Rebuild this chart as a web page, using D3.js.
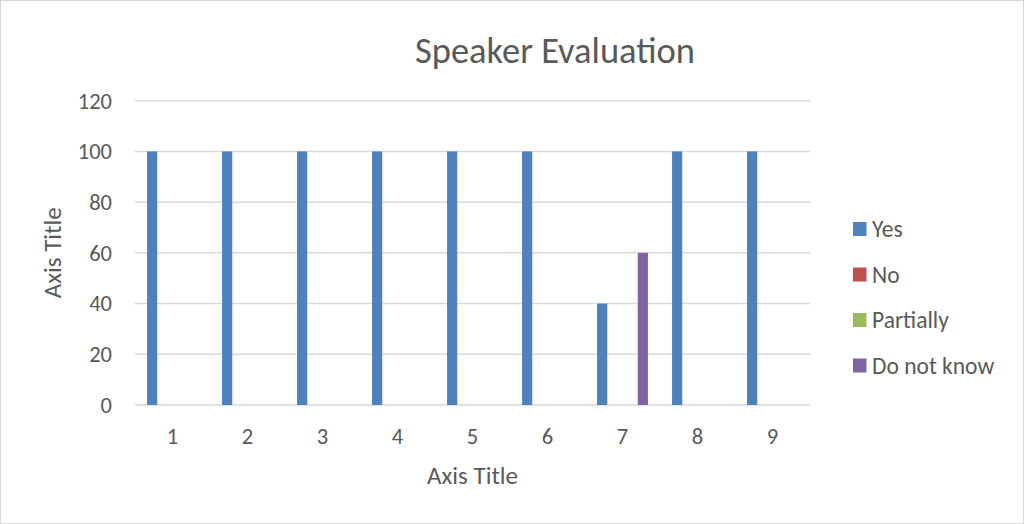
<!DOCTYPE html>
<html>
<head>
    <style>
        body { margin: 0; }
        text { font-family: Carlito, Calibri, Lato, sans-serif; fill: #595959; }
    </style>
    <script src="https://d3js.org/d3.v7.min.js"></script>
</head>
<body>
    <svg width="1024" height="524"></svg>
    <script>
        var categories = ["1", "2", "3", "4", "5", "6", "7", "8", "9"];
        var seriesNames = ["Yes", "No", "Partially", "Do not know"];
        var seriesColors = ["#4F81BD", "#C0504D", "#9BBB59", "#8064A2"];
        var yes = [100, 100, 100, 100, 100, 100, 40, 100, 100];
        var no = [0, 0, 0, 0, 0, 0, 0, 0, 0];
        var partially = [0, 0, 0, 0, 0, 0, 0, 0, 0];
        var doNotKnow = [0, 0, 0, 0, 0, 0, 60, 0, 0];
        var yTicks = [0, 20, 40, 60, 80, 100, 120];

        var values = [yes, no, partially, doNotKnow];

        var svg = d3.select("svg");
        var plotLeft = 135, plotRight = 810, plotTop = 100.7, plotBottom = 405;

        svg.append("rect")
            .attr("x", 0.5).attr("y", 0.5)
            .attr("width", 1023).attr("height", 523)
            .attr("fill", "white").attr("stroke", "#D9D9D9");

        var x = d3.scaleBand().domain(categories).range([plotLeft, plotRight]);
        var y = d3.scaleLinear().domain([0, 120]).range([plotBottom, plotTop]);

        // bars are 10.2px wide, step 13.56px (overlap -33%)
        var barW = 10.2, step = 13.56;
        var groupW = step * 3 + barW;

        // gridlines
        svg.append("g")
            .selectAll("line")
            .data(yTicks)
            .enter().append("line")
            .attr("x1", plotLeft).attr("x2", plotRight)
            .attr("y1", function (d) { return y(d); })
            .attr("y2", function (d) { return y(d); })
            .attr("stroke", "#D9D9D9")
            .attr("stroke-width", 1.5);

        // y tick labels
        svg.append("g")
            .selectAll("text")
            .data(yTicks)
            .enter().append("text")
            .attr("x", 112)
            .attr("y", function (d) { return y(d); })
            .attr("dy", "0.35em")
            .attr("text-anchor", "end")
            .attr("font-size", "22.5px")
            .text(function (d) { return d; });

        // x tick labels
        svg.append("g")
            .selectAll("text")
            .data(categories)
            .enter().append("text")
            .attr("x", function (d) { return x(d) + x.bandwidth() / 2; })
            .attr("y", 444)
            .attr("text-anchor", "middle")
            .attr("font-size", "22.5px")
            .text(function (d) { return d; });

        // bars
        values.forEach(function (vals, i) {
            svg.append("g")
                .selectAll("rect")
                .data(vals)
                .enter().append("rect")
                .attr("x", function (d, j) {
                    return x(categories[j]) + (x.bandwidth() - groupW) / 2 + i * step;
                })
                .attr("y", function (d) { return y(d); })
                .attr("width", barW)
                .attr("height", function (d) { return plotBottom - y(d); })
                .attr("fill", seriesColors[i]);
        });

        // title
        svg.append("text")
            .attr("x", 555)
            .attr("y", 63)
            .attr("text-anchor", "middle")
            .attr("font-size", "36.5px")
            .text("Speaker Evaluation");

        // axis titles
        svg.append("text")
            .attr("x", (plotLeft + plotRight) / 2)
            .attr("y", 484)
            .attr("text-anchor", "middle")
            .attr("font-size", "25px")
            .text("Axis Title");

        svg.append("text")
            .attr("transform", "translate(61," + (plotTop + plotBottom) / 2 + ") rotate(-90)")
            .attr("text-anchor", "middle")
            .attr("font-size", "25px")
            .text("Axis Title");

        // legend
        var legend = svg.append("g")
            .selectAll("g")
            .data(seriesNames)
            .enter().append("g")
            .attr("transform", function (d, i) { return "translate(853," + (229 + i * 45.5) + ")"; });

        legend.append("rect")
            .attr("x", 0).attr("y", -7)
            .attr("width", 13.5).attr("height", 14)
            .attr("fill", function (d, i) { return seriesColors[i]; });

        legend.append("text")
            .attr("x", 19)
            .attr("dy", "0.35em")
            .attr("font-size", "23.5px")
            .text(function (d) { return d; });
    </script>
</body>
</html>
